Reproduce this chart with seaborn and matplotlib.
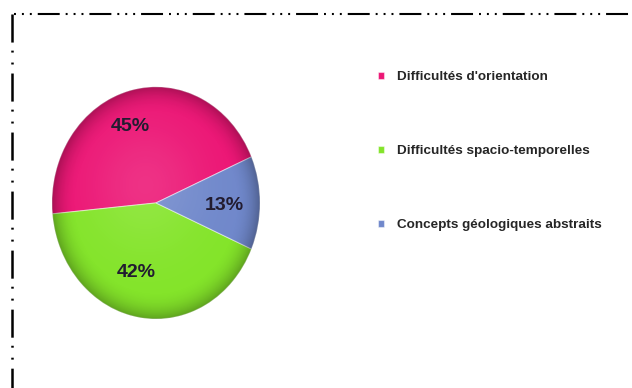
import numpy as np
import matplotlib
matplotlib.use("Agg")
import matplotlib.pyplot as plt
from matplotlib.lines import Line2D
from matplotlib.patches import Circle
import seaborn as sns

# Survey results: share of each difficulty reported
categories = [
    "Difficultés d'orientation",
    "Difficultés spacio-temporelles",
    "Concepts géologiques abstraits",
]
shares = [45, 42, 13]
slice_colors = ["#EC1675", "#84E42A", "#7088CB"]

sns.set_theme(style="white")
plt.rcParams["font.family"] = ["Liberation Sans", "DejaVu Sans"]
plt.rcParams["lines.scale_dashes"] = False

palette = sns.color_palette(slice_colors)

fig = plt.figure(figsize=(6.32, 3.88), dpi=100)
fig.patch.set_facecolor("white")

# Pie axes (stretched vertically for an oval pie)
ax = fig.add_axes([0.0658, 0.148, 0.362, 0.658])
wedges, texts, autotexts = ax.pie(
    shares,
    colors=palette,
    startangle=23.4,
    counterclock=True,
    autopct="%.0f%%",
    pctdistance=0.68,
    wedgeprops=dict(edgecolor=(1, 1, 1, 0.45), linewidth=0.8),
    textprops=dict(fontsize=14, fontweight="bold", color="#221C30"),
)

# Soft bevel: darker rim and a faint highlight
n = 400
gx, gy = np.meshgrid(np.linspace(-1, 1, n), np.linspace(-1, 1, n))
r = np.hypot(gx, gy)
rim = np.zeros((n, n, 4))
rim[..., 3] = np.clip((r - 0.75) / 0.25, 0, 1) ** 2.2 * 0.28
glow = np.ones((n, n, 4))
glow[..., 3] = 0.12 * np.exp(-((gx + 0.1) ** 2 + (gy - 0.15) ** 2) / 0.3)
for layer in (glow, rim):
    im = ax.imshow(layer, extent=(-1, 1, -1, 1), origin="lower",
                   aspect="auto", zorder=2, interpolation="bilinear")
    im.set_clip_path(Circle((0, 0), 1, transform=ax.transData))

# nudge the percentage labels into place
for t, (dx, dy) in zip(autotexts, ((-0.08, 0.0), (-0.08, 0.07), (-0.02, -0.02))):
    x, y = t.get_position()
    t.set_position((x + dx, y + dy))
    t.set_zorder(3)

ax.set_aspect("auto")
ax.set_xlim(-1.1, 1.1)
ax.set_ylim(-1.1, 1.1)
ax.axis("off")

# Legend on the right
fig.legend(
    wedges, categories,
    loc="upper left", bbox_to_anchor=(0.598, 0.817),
    frameon=False, borderpad=0, borderaxespad=0,
    handlelength=0.45, handleheight=0.45, handletextpad=1.0,
    labelspacing=4.6,
    prop=dict(family=["Liberation Sans", "DejaVu Sans"], weight="bold", size=9.7),
)

# Dash-dot frame along the top and left edges
y_top = 1 - 13.5 / 388
fig.add_artist(Line2D([14 / 632, 1.0], [y_top, y_top], transform=fig.transFigure,
                      color="black", linewidth=1.5, dash_capstyle="butt",
                      linestyle=(20.1, (15.8, 4.3, 1.4, 4.3, 1.4, 4.3, 1.4, 4.3))))
fig.add_artist(Line2D([12 / 632, 12 / 632], [y_top, 0.0], transform=fig.transFigure,
                      color="black", linewidth=1.8, dash_capstyle="butt",
                      linestyle=(0, (20.2, 5.8, 1.4, 7.2, 1.4, 6.5))))

fig.savefig("out.png", dpi=100, facecolor="white")
